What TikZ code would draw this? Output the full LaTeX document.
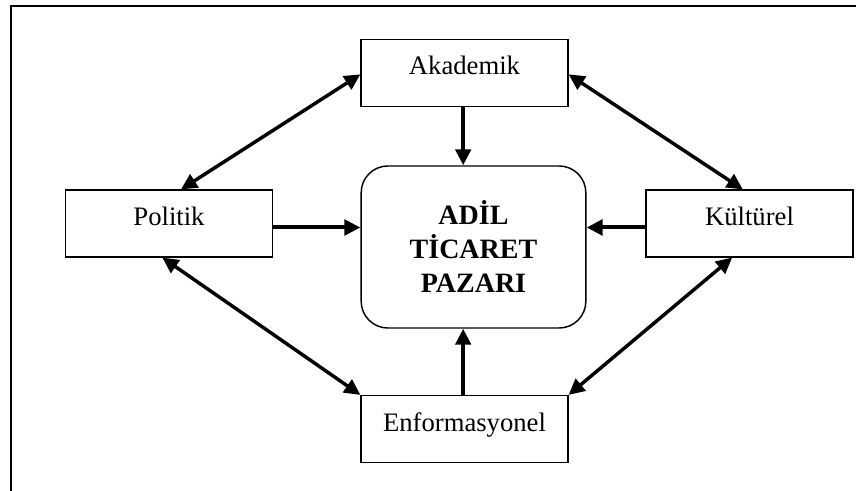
\documentclass[tikz,border=0pt]{standalone}
\usepackage{fontspec}
\setmainfont{Liberation Serif}
\usetikzlibrary{arrows.meta,positioning}

\begin{document}
\begin{tikzpicture}[x=0.75pt, y=-0.75pt,
    field/.style={draw, line width=1.1pt, minimum width=155pt, minimum height=50pt,
                  inner sep=0pt, text height=0.7em, text depth=0.4em,
                  font=\fontsize{20}{24}\selectfont},
    core/.style={draw, line width=1.1pt, rounded corners=20pt, minimum width=168.5pt,
                 minimum height=121.5pt, align=center, inner sep=0pt, text depth=-4.5pt,
                 font=\fontsize{21}{25.5}\selectfont\bfseries},
    arr/.style={-{Triangle[length=12pt,width=11.5pt]}, line width=3pt},
    darr/.style={{Triangle[length=12pt,width=11.5pt]}-{Triangle[length=12pt,width=11.5pt]}, line width=2.6pt}]

    \useasboundingbox (0,0) rectangle (856,491);

    % ── frame ────────────────────────────────────────────────
    \draw[line width=1.1pt] (11,491) -- (11,6) -- (856,6);

    % ── boxes ────────────────────────────────────────────────
    \node[core] (pazar) at (473.5,247) {ADİL\\TİCARET\\PAZARI};
    \node[field] (akad) at (464.5,73) {Akademik};
    \node[field] (polit) at (169,223.5) {Politik};
    \node[field] (kult) at (749.5,223.5) {Kültürel};
    \node[field] (enfo) at (464.5,429) {Enformasyonel};

    % ── into the market ──────────────────────────────────────
    \draw[arr] ([xshift=-1pt]akad.south) -- ([xshift=-1pt]akad.south |- pazar.north);
    \draw[arr] ([xshift=-1pt]enfo.north) -- ([xshift=-1pt]enfo.north |- pazar.south);
    \draw[arr] ([yshift=-3pt]polit.east) -- ([yshift=-3pt]polit.east -| pazar.west);
    \draw[arr] ([yshift=-3pt]kult.west) -- ([yshift=-3pt]kult.west -| pazar.east);

    % ── both ways ────────────────────────────────────────────
    \draw[darr] ([xshift=9pt]polit.north) -- ([yshift=-1pt]akad.west);
    \draw[darr] ([yshift=-1pt]akad.east) -- ([xshift=-5pt]kult.north);
    \draw[darr] ([xshift=-5pt]polit.south) -- (enfo.north west);
    \draw[darr] ([xshift=-13pt]kult.south) -- (enfo.north east);

\end{tikzpicture}
\end{document}
